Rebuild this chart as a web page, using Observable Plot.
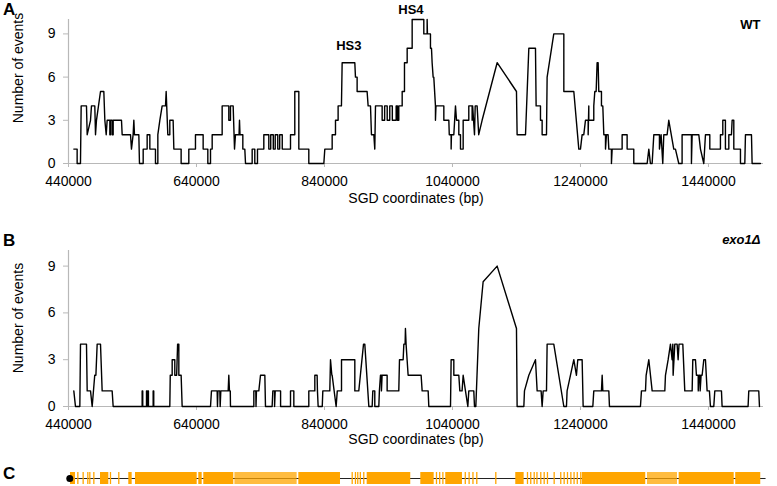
<!DOCTYPE html>
<html><head><meta charset="utf-8">
<script src="https://cdn.jsdelivr.net/npm/d3@7"></script>
<script src="https://cdn.jsdelivr.net/npm/@observablehq/plot@0.6"></script>
<style>
body{margin:0;background:#fff;font-family:"Liberation Sans",Arial,sans-serif;}
#fig{position:relative;width:777px;height:486px;overflow:hidden;background:#fff;}
.panel{position:absolute;left:0;}
.lab{position:absolute;left:3px;font-weight:bold;font-size:17px;line-height:17px;color:#000;}
.ytitle{position:absolute;font-size:14px;line-height:14px;white-space:nowrap;color:#000;transform:translate(-50%,-50%) rotate(-90deg);}
</style></head><body><div id="fig"></div>
<script>
// ---- axes ----
const xDomain = [440000, 1526000];
const xTicks = [440000, 640000, 840000, 1040000, 1240000, 1440000];
const yTicks = [0, 3, 6, 9];
const xTitle = "SGD coordinates (bp)";
const yTitle = "Number of events";

// ---- panel A: WT, [SGD coordinate (bp), number of events] ----
const wtTrace = [[448300,1],[453500,1],[453500,0],[458700,0],[459800,4],[468100,4],[469200,2],[474400,3],[475900,4],[481100,4],[482200,2],[483700,3],[490000,5],[495200,5],[496800,3],[498900,2],[500400,3],[504600,3],[504600,2],[505600,2],[505600,3],[508200,3],[508200,2],[509800,2],[509800,3],[522800,3],[523850,2],[536900,2],[538400,1],[541000,2],[542100,3],[543100,2],[549900,2],[550900,0],[556700,0],[556700,1],[562900,1],[562900,2],[567100,2],[567100,1],[575900,1],[575900,0],[579600,0],[579600,2],[582700,3],[586350,4],[591600,4],[592600,5],[595200,2],[598300,2],[598300,3],[603500,3],[604600,1],[616000,1],[616000,0],[628000,0],[628000,1],[638400,1],[638400,2],[650400,2],[650400,1],[657700,1],[657700,0],[661900,0],[661900,1],[664500,1],[664500,2],[680100,2],[680100,4],[690500,4],[690500,3],[693100,3],[693100,4],[697300,4],[699400,1],[700900,2],[706500,2],[707200,3],[708000,2],[712400,2],[712400,1],[715500,1],[716600,0],[727000,0],[727000,1],[731100,1],[731100,0],[735300,0],[735300,1],[745200,1],[745200,2],[753000,2],[753000,1],[756000,1],[756000,2],[760000,2],[760000,1],[763000,1],[763000,2],[767000,2],[767000,1],[770000,1],[770000,2],[774000,2],[774000,1],[786900,1],[786900,2],[793600,2],[793600,5],[799900,5],[799900,1],[815500,1],[815500,0],[839000,0],[840500,1],[852000,1],[852000,2],[857200,2],[857200,3],[861300,3],[861300,4],[866500,4],[867600,7],[887400,7],[888400,6],[891000,6],[891000,5],[906600,5],[908200,4],[911900,4],[913400,2],[917100,2],[918600,1],[919700,4],[930100,4],[930100,3],[934000,3],[934000,4],[938000,4],[938000,3],[942000,3],[942000,4],[946000,4],[946000,3],[952000,3],[952000,4],[954000,4],[954000,3],[956100,3],[956100,4],[961400,4],[961400,5],[965000,5],[965000,7],[969200,7],[969200,8],[977000,8],[977000,10],[995200,10],[995200,9],[1000400,9],[1000400,10],[1000900,9],[1005600,9],[1005600,8],[1007200,8],[1008200,7],[1009800,6],[1010800,6],[1013400,4],[1013400,3],[1014200,4],[1026500,4],[1026500,3],[1034300,3],[1035000,2],[1037900,2],[1037900,1],[1038400,2],[1042100,2],[1044700,4],[1046300,3],[1049900,3],[1049900,2],[1052500,2],[1052500,1],[1056700,1],[1056700,3],[1065500,3],[1065500,4],[1070700,4],[1070700,3],[1071500,4],[1074400,2],[1075500,4],[1078500,4],[1081000,2],[1086300,3],[1109800,7],[1140000,5],[1141000,2],[1154100,2],[1159300,8],[1169700,8],[1170700,4],[1177500,4],[1177500,3],[1180100,3],[1180100,2],[1186900,2],[1187900,6],[1198300,9],[1214000,9],[1214000,5],[1229600,5],[1237400,1],[1240000,1],[1242600,2],[1245200,2],[1247800,3],[1252000,3],[1252000,2],[1253000,4],[1253000,3],[1260800,3],[1260800,4],[1262400,5],[1264500,5],[1266000,7],[1267600,7],[1268600,5],[1272800,5],[1272800,4],[1274900,4],[1276500,2],[1279100,2],[1279100,1],[1280600,2],[1283200,2],[1284300,1],[1288400,1],[1288400,0],[1289500,1],[1305100,1],[1305100,2],[1312900,2],[1312900,1],[1323300,1],[1323300,0],[1344200,0],[1346800,1],[1349300,0],[1352000,0],[1354600,2],[1363400,2],[1363400,1],[1366000,2],[1368600,0],[1370200,2],[1375400,2],[1378000,3],[1385800,1],[1388400,1],[1393600,0],[1398800,0],[1398800,2],[1413400,2],[1413400,0],[1414500,2],[1424900,2],[1427500,1],[1432700,0],[1435300,2],[1442100,2],[1442100,1],[1458700,1],[1458700,2],[1462400,2],[1462400,3],[1466500,3],[1466500,1],[1471800,1],[1471800,2],[1475900,2],[1477000,3],[1479600,3],[1479600,1],[1490000,1],[1490000,0],[1496800,0],[1497800,2],[1507200,2],[1508200,0],[1521200,0]];

// ---- panel B: exo1Δ ----
const exoTrace = [[448300,1],[450900,0],[457700,0],[458750,4],[468100,4],[469200,1],[474400,1],[477000,0],[481000,2],[482800,2],[484800,4],[490000,4],[492600,1],[508200,1],[509800,0],[555100,0],[555100,1],[556000,1],[556000,0],[561900,0],[561900,1],[562800,1],[562800,0],[564000,0],[564000,1],[564900,1],[564900,0],[572300,0],[572300,1],[573200,1],[573200,0],[598300,0],[599000,2],[602000,2],[602000,3],[606100,3],[606100,2],[609000,2],[610500,4],[612400,4],[612400,2],[616000,2],[617600,0],[661900,0],[663400,1],[672300,1],[672800,0],[673500,1],[676500,1],[677000,0],[678000,1],[689500,1],[690500,2],[691500,1],[692800,1],[693100,0],[729600,0],[729600,1],[732700,1],[733000,0],[733700,1],[737400,1],[740000,2],[746800,2],[747800,0],[758200,0],[759300,1],[762000,1],[762000,0],[763000,1],[771400,1],[771400,0],[786900,0],[786900,1],[792100,1],[792100,0],[815500,0],[815500,1],[824900,1],[824900,2],[828500,2],[829000,1],[830100,0],[836500,0],[837400,1],[848300,1],[849400,3],[851500,2],[852000,2],[858200,0],[860000,1],[866600,1],[866600,3],[887400,3],[887400,1],[893600,1],[901000,4],[903000,4],[909300,0],[914500,0],[915500,1],[918600,1],[918600,0],[924900,0],[925800,1],[927500,2],[929000,2],[929000,1],[930000,2],[937900,2],[937900,1],[956100,1],[957200,3],[962900,3],[964000,4],[966000,4],[966500,5],[967500,4],[969100,3],[970700,2],[991000,2],[992600,1],[1000400,1],[1002000,1],[1003000,0],[1036900,0],[1037900,3],[1042100,3],[1042100,2],[1049900,2],[1051500,1],[1055000,1],[1056700,2],[1060300,1],[1064000,0],[1065500,1],[1073300,1],[1074400,0],[1076500,0],[1081100,5],[1087900,8],[1109800,9],[1140000,5],[1141000,0],[1151500,0],[1152500,1],[1159300,2],[1169700,3],[1172300,1],[1178500,1],[1180100,0],[1181700,1],[1186900,1],[1187900,4],[1198300,4],[1214000,0],[1218100,0],[1219100,1],[1229600,3],[1233700,2],[1235800,3],[1242600,3],[1244200,0],[1259300,0],[1260800,1],[1272800,1],[1273900,2],[1274900,1],[1284300,1],[1285300,0],[1333700,0],[1335300,1],[1341600,1],[1342600,2],[1346800,3],[1352000,1],[1371800,1],[1372800,2],[1377000,3],[1380600,4],[1383200,3],[1384300,4],[1384800,2],[1387400,4],[1391000,4],[1392600,3],[1394000,4],[1399900,4],[1403000,1],[1414500,1],[1415500,3],[1419700,3],[1421200,2],[1424000,2],[1424000,1],[1425500,2],[1427000,2],[1427000,1],[1428500,2],[1430100,2],[1432700,3],[1435300,3],[1437900,1],[1441500,1],[1443100,0],[1448300,0],[1449900,1],[1460300,1],[1461300,0],[1501900,0],[1503000,1],[1518600,1],[1519700,0]];

// ---- annotations ----
const hsNames = ["HS3", "HS4"];
const hsPos = [878000, 975000];
const hsLevel = [8.2, 10.7];

// ---- panel C: chromosome with gene blocks ----
const chrStart = 440000, chrEnd = 1530000;
const centromere = 442000;
const blockStart = [443100, 490000, 534200, 544700, 643600, 651400, 700000, 799900, 906700, 990500, 1029500, 1138900, 1243100, 1344700, 1394200, 1482600];
const blockEnd   = [450900, 503000, 539500, 641100, 648900, 698300, 797300, 865000, 974800, 1011400, 1055600, 1152000, 1342000, 1391600, 1480200, 1521700];
const blockDense = [1, 1, 1, 1, 1, 1, 0, 1, 1, 1, 1, 1, 1, 0, 1, 1];
const geneTicks = [454600, 462900, 470200, 473300, 479600, 505600, 518600, 883300, 888400, 892000, 896000, 901400, 1015000, 1020000, 1025000, 1060000, 1066000, 1072000, 1078000, 1107700, 1157200, 1162300, 1167700, 1172000, 1178000, 1183300, 1188400, 1198900, 1209200, 1214500, 1219700, 1225000, 1230000, 1235000, 1240500];

const FONT = "Liberation Sans, Arial, sans-serif";
const AXIS = "#b8b8b8";

function panel(trace, {height, marginTop, marginBottom, titleDy, extra}) {
  return Plot.plot({
    width: 777, height, marginLeft: 68, marginRight: 14, marginTop, marginBottom,
    style: {fontFamily: FONT, fontSize: "14px", color: "#000", background: "white", overflow: "visible"},
    x: {domain: xDomain, axis: null},
    y: {domain: [0, 10], axis: null},
    marks: [
      Plot.ruleY([0], {stroke: AXIS, strokeWidth: 1.2}),
      Plot.ruleX([xDomain[0]], {stroke: AXIS, strokeWidth: 1.2}),
      Plot.axisX({ticks: xTicks, tickFormat: d => String(d), tickSize: 4, tickPadding: 9, stroke: AXIS, fill: "#000", fontSize: 14, label: null}),
      Plot.axisY({ticks: yTicks, tickSize: 5, tickPadding: 8, stroke: AXIS, fill: "#000", fontSize: 14, label: null}),
      Plot.line(trace, {x: d => d[0], y: d => d[1], stroke: "#000", strokeWidth: 1.4}),
      Plot.text([xTitle], {frameAnchor: "bottom", dy: titleDy, text: d => d, fontSize: 14, fill: "#000"}),
      ...extra
    ]
  });
}

const fig = document.getElementById("fig");
function place(el, top) { el.classList.add("panel"); el.style.top = top + "px"; fig.appendChild(el); }

const A = panel(wtTrace, {height: 213, marginTop: 19, marginBottom: 50, titleDy: 39.5, extra: [
  Plot.text(hsNames, {x: (d, i) => hsPos[i], y: (d, i) => hsLevel[i], text: d => d, fontWeight: "bold", fontSize: 13, fill: "#000"}),
  Plot.text(["WT"], {frameAnchor: "top-right", dx: -3, dy: 0, text: d => d, fontWeight: "bold", fontSize: 13, fill: "#000", textAnchor: "end"})
]});
place(A, 0);

const B = panel(exoTrace, {height: 236, marginTop: 35, marginBottom: 45, titleDy: 37.5, extra: [
  Plot.text(["exo1Δ"], {frameAnchor: "top-right", dx: -3, dy: -16, text: d => d, fontWeight: "bold", fontStyle: "italic", fontSize: 13, fill: "#000", textAnchor: "end"})
]});
place(B, 215);

const genes = blockStart.map((s, i) => ({s, e: blockEnd[i], dense: blockDense[i]}));
const C = Plot.plot({
  width: 777, height: 31, marginLeft: 68, marginRight: 14, marginTop: 15, marginBottom: 4,
  style: {background: "white", overflow: "visible"},
  x: {domain: xDomain, axis: null},
  y: {domain: [-1, 1], axis: null},
  marks: [
    Plot.ruleY([0], {x1: chrStart, x2: chrEnd, stroke: "#222", strokeWidth: 1}),
    Plot.rect(genes, {x1: "s", x2: "e", y1: -1, y2: 1, fill: "#FFA500", fillOpacity: d => d.dense ? 1 : 0.75}),
    Plot.tickX(geneTicks, {x: d => d, stroke: "#FFA500", strokeWidth: 1.3}),
    Plot.dot([centromere], {x: d => d, y: 0, r: 3.5, fill: "#000"})
  ]
});
place(C, 457);

// HTML labels
function label(text, cls, css) {
  const d = document.createElement("div");
  d.className = cls; d.textContent = text;
  Object.assign(d.style, css); fig.appendChild(d);
}
label("A", "lab", {top: "1px"});
label("B", "lab", {top: "232px"});
label("C", "lab", {top: "465px"});
label(yTitle, "ytitle", {left: "18px", top: "68px"});
label(yTitle, "ytitle", {left: "18px", top: "318px"});
</script></body></html>
